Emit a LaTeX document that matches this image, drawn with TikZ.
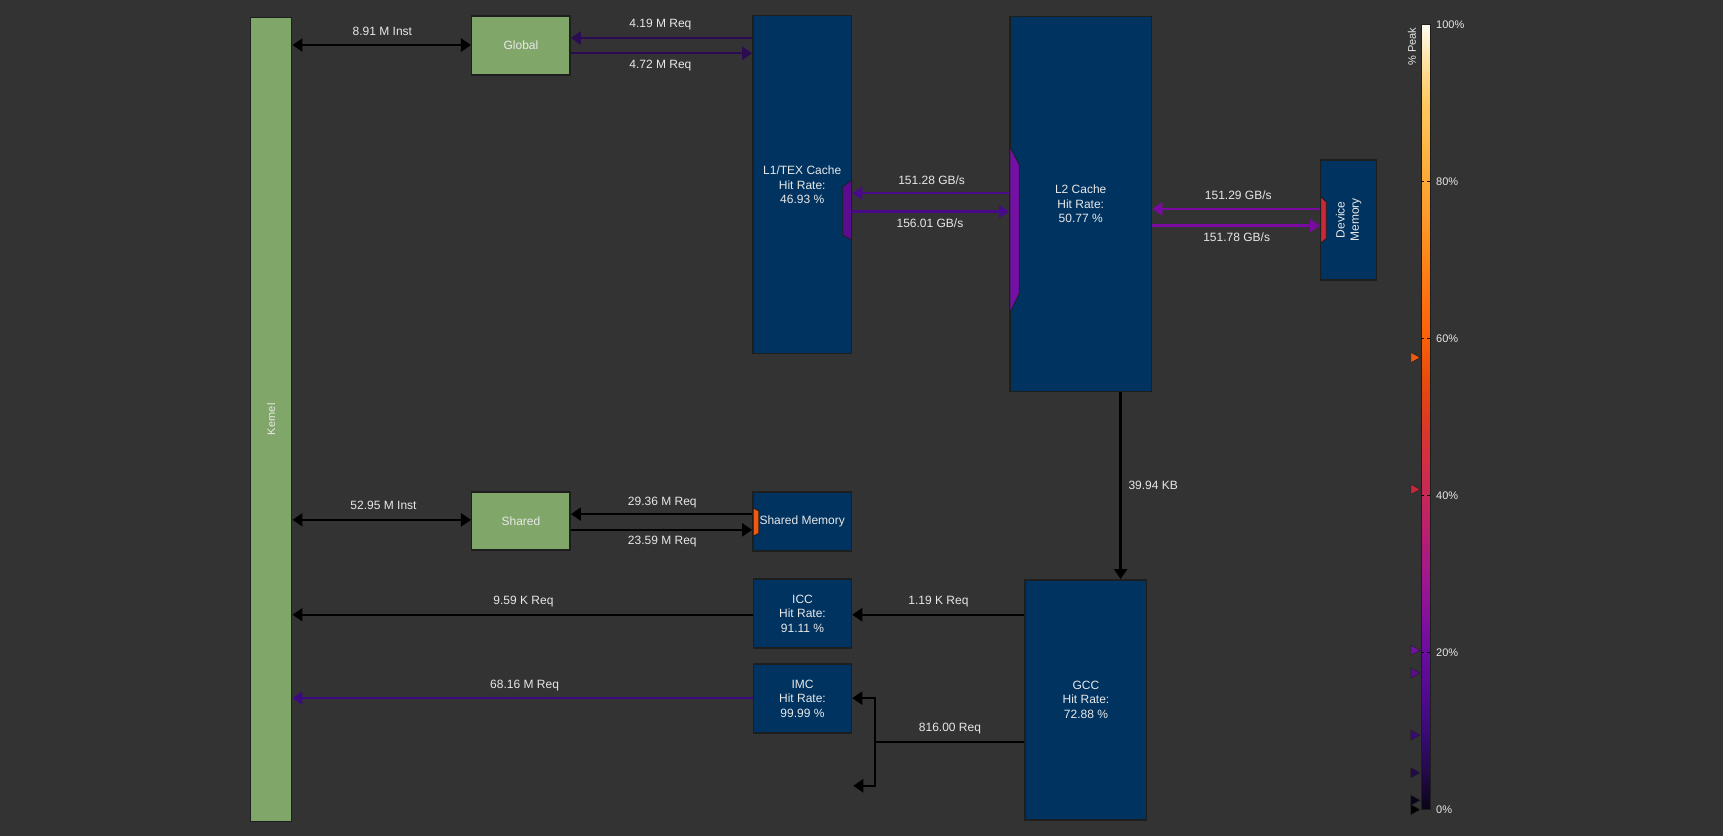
\documentclass[tikz,border=0pt]{standalone}
\usepackage{fontspec}
\setmainfont{Liberation Sans}
\usetikzlibrary{arrows.meta}

% palette
\definecolor{bg}{HTML}{333333}
\definecolor{edge}{HTML}{1E1E1E}
\definecolor{txt}{HTML}{E8E8E8}
\definecolor{kgreen}{HTML}{81A66A}
\definecolor{kblue}{HTML}{003360}
\definecolor{cGlob}{HTML}{2B0B52}
\definecolor{cLone}{HTML}{480A88}
\definecolor{cLtwo}{HTML}{7A0AA2}
\definecolor{cImc}{HTML}{3C0A80}
\definecolor{pLone}{HTML}{5C0C8E}
\definecolor{pLtwo}{HTML}{7410A6}
\definecolor{pDram}{HTML}{C8283C}
\definecolor{pSmem}{HTML}{F05A10}

% peak colour scale stops
\definecolor{pk0}{HTML}{0A0418}
\definecolor{pk5}{HTML}{240A4A}
\definecolor{pk10}{HTML}{3A0A78}
\definecolor{pk15}{HTML}{520A92}
\definecolor{pk20}{HTML}{6A0CA0}
\definecolor{pk25}{HTML}{88109C}
\definecolor{pk30}{HTML}{A2188C}
\definecolor{pk35}{HTML}{B81E72}
\definecolor{pk40}{HTML}{C62858}
\definecolor{pk45}{HTML}{D23040}
\definecolor{pk50}{HTML}{DC3C20}
\definecolor{pk55}{HTML}{E84C0C}
\definecolor{pk60}{HTML}{F86008}
\definecolor{pk65}{HTML}{FF7010}
\definecolor{pk70}{HTML}{FF8418}
\definecolor{pk75}{HTML}{FF9828}
\definecolor{pk80}{HTML}{FFA834}
\definecolor{pk85}{HTML}{FFB846}
\definecolor{pk90}{HTML}{FFC85E}
\definecolor{pk95}{HTML}{FFE09C}
\definecolor{pk100}{HTML}{FFFBF0}

\pgfdeclareverticalshading{peakscale}{100bp}{%
  color(0bp)=(pk0); color(25bp)=(pk0); color(27.5bp)=(pk5); color(30bp)=(pk10);
  color(32.5bp)=(pk15); color(35bp)=(pk20); color(37.5bp)=(pk25); color(40bp)=(pk30);
  color(42.5bp)=(pk35); color(45bp)=(pk40); color(47.5bp)=(pk45); color(50bp)=(pk50);
  color(52.5bp)=(pk55); color(55bp)=(pk60); color(57.5bp)=(pk65); color(60bp)=(pk70);
  color(62.5bp)=(pk75); color(65bp)=(pk80); color(67.5bp)=(pk85); color(70bp)=(pk90);
  color(72.5bp)=(pk95); color(75bp)=(pk100); color(100bp)=(pk100)}

\newcommand\lblfont{\fontsize{12}{14.3}\selectfont}
\newcommand\scalefont{\fontsize{11}{13}\selectfont}

\begin{document}
\begin{tikzpicture}[x=1.09885pt, y=-1.09856pt,
  box/.style={draw=edge, line width=1.5pt, inner sep=0pt, text=txt, align=center, font=\lblfont},
  dims/.style 2 args={minimum width={#1*1.09885pt}, minimum height={#2*1.09856pt}},
  greenbox/.style={box, fill=kgreen},
  bluebox/.style={box, fill=kblue},
  lbl/.style={text=txt, font=\lblfont, inner sep=0pt, align=center},
  tip/.tip={Triangle[length=10pt, width=13pt]},
  flow/.style={line width=2.4pt, -tip},
  both/.style={line width=2.4pt, tip-tip},
  port/.style={draw=edge, line width=0.8pt},
  scalelbl/.style={text=txt, font=\scalefont, inner sep=0pt, anchor=west}]

% canvas
\fill[bg] (0,0) rectangle (1568,761);
\useasboundingbox (0,0) rectangle (1568,761);

% units
\node[greenbox, dims={37.5}{731.9}] (kernel) at (246.75,381.75) {};
\node[lbl, rotate=90, font=\scalefont] (kernel-text) at (kernel.center) {Kernel};
\node[greenbox, dims={89.6}{53.7}] (global) at (474.1,41.45) {Global};
\node[greenbox, dims={89.6}{52.8}] (shared) at (474.1,474.4) {Shared};
\node[bluebox, dims={89.9}{307.7}] (l1) at (730.05,168.15) {L1/TEX Cache\\Hit Rate:\\46.93 \%};
\node[bluebox, dims={129}{341.4}] (l2) at (983.5,185.7) {L2 Cache\\Hit Rate:\\50.77 \%};
\node[bluebox, dims={51}{109.2}] (dram) at (1227.3,200.2) {};
\node[lbl, rotate=90] (dram-text) at (dram.center) {Device\\Memory};
\node[bluebox, dims={89.9}{53.4}] (smem) at (730.05,474.7) {Shared Memory};
\node[bluebox, dims={89.2}{62.8}] (icc) at (730.3,558.6) {ICC\\Hit Rate:\\91.11 \%};
\node[bluebox, dims={89.2}{62.8}] (imc) at (730.3,635.9) {IMC\\Hit Rate:\\99.99 \%};
\node[bluebox, dims={110.5}{218.4}] (gcc) at (988.25,637) {GCC\\Hit Rate:\\72.88 \%};

% ports
\filldraw[port, fill=pLone] (775,164) -- (767,170) -- (767,214) -- (775,218.4) -- cycle;
\filldraw[port, fill=pLtwo] (919,133.5) -- (927.6,150.2) -- (927.6,267) -- (919,285) -- cycle;
\filldraw[port, fill=pDram] (1202,179) -- (1207,184) -- (1207,217) -- (1202,221.4) -- cycle;
\filldraw[port, fill=pSmem] (685.5,462.5) -- (690.5,465) -- (690.5,485.5) -- (685.5,488) -- cycle;

% traffic
\draw[both] (kernel.east |- 0,41) -- (global.west |- 0,41);
\draw[flow, cGlob] (l1.west |- 0,34.6) -- (global.east |- 0,34.6);
\draw[flow, cGlob] (global.east |- 0,48.5) -- (l1.west |- 0,48.5);
\draw[flow, cLone] (l2.west |- 0,175.9) -- (l1.east |- 0,175.9);
\draw[flow, cLone] (l1.east |- 0,192.6) -- (l2.west |- 0,192.6);
\draw[flow, cLtwo] (dram.west |- 0,190.2) -- (l2.east |- 0,190.2);
\draw[flow, cLtwo] (l2.east |- 0,205.4) -- (dram.west |- 0,205.4);
\draw[flow] (l2.south -| 1019.8,0) -- (gcc.north -| 1019.8,0);
\draw[both] (kernel.east |- 0,473.2) -- (shared.west |- 0,473.2);
\draw[flow] (smem.west |- 0,468) -- (shared.east |- 0,468);
\draw[flow] (shared.east |- 0,482.3) -- (smem.west |- 0,482.3);
\draw[flow] (gcc.west |- 0,559.6) -- (icc.east |- 0,559.6);
\draw[flow] (icc.west |- 0,559.6) -- (kernel.east |- 0,559.6);
\draw[flow, cImc] (imc.west |- 0,635.5) -- (kernel.east |- 0,635.5);
\coordinate (split) at (796.3,675.2);
\coordinate (spare) at (776.5,715.3);
\draw[line width=2.4pt] (gcc.west |- split) -- (split);
\draw[flow] (split) |- (imc.east |- 0,635.5);
\draw[flow] (split) |- (spare);

% traffic labels
\node[lbl] (t-kg) at (348,28.8) {8.91 M Inst};
\node[lbl] (t-gl-in) at (601,22.8) {4.19 M Req};
\node[lbl] (t-gl-out) at (601,59.8) {4.72 M Req};
\node[lbl] (t-l1-in) at (847.8,164.4) {151.28 GB/s};
\node[lbl] (t-l1-out) at (846.3,203.2) {156.01 GB/s};
\node[lbl] (t-l2-in) at (1126.9,178) {151.29 GB/s};
\node[lbl] (t-l2-out) at (1125.4,216) {151.78 GB/s};
\node[lbl, anchor=west] (t-gcc) at (1026.8,442) {39.94 KB};
\node[lbl] (t-ks) at (349,460.2) {52.95 M Inst};
\node[lbl] (t-sm-in) at (602.7,457.1) {29.36 M Req};
\node[lbl] (t-sm-out) at (602.7,492.9) {23.59 M Req};
\node[lbl] (t-icc-k) at (476.4,547.5) {9.59 K Req};
\node[lbl] (t-gcc-icc) at (854,547.5) {1.19 K Req};
\node[lbl] (t-imc-k) at (477.4,624) {68.16 M Req};
\node[lbl] (t-gcc-imc) at (864.5,663.4) {816.00 Req};

% peak colour scale
\shade[shading=peakscale] (1294,22.5) rectangle (1301.5,737);
\draw[edge, line width=1.1pt] (1294,22.5) rectangle (1301.5,737);
\foreach \p in {20,40,60,80}
  \draw[black, line width=0.9pt, dash pattern=on 2.7pt off 2.7pt]
    (1293.7,{737-7.145*\p}) -- (1302,{737-7.145*\p});
\foreach \p in {0,20,40,60,80,100}
  \node[scalelbl] (s\p) at (1306.8,{737-7.145*\p}) {\p\%};
\node[text=txt, font=\scalefont, inner sep=0pt, rotate=90] (peak-title) at (1285,42.5) {\% Peak};
\foreach \p/\c in {57.6/pSmem, 40.8/pDram, 20.3/pLtwo, 17.4/pLone, 9.5/pk10, 4.7/pk5, 1.2/pk0, 0/black}
  \filldraw[fill=\c, draw=edge, line width=0.4pt]
    (1284,{737-7.145*\p-4.6}) -- (1292.2,{737-7.145*\p}) -- (1284,{737-7.145*\p+4.6}) -- cycle;
\end{tikzpicture}
\end{document}
